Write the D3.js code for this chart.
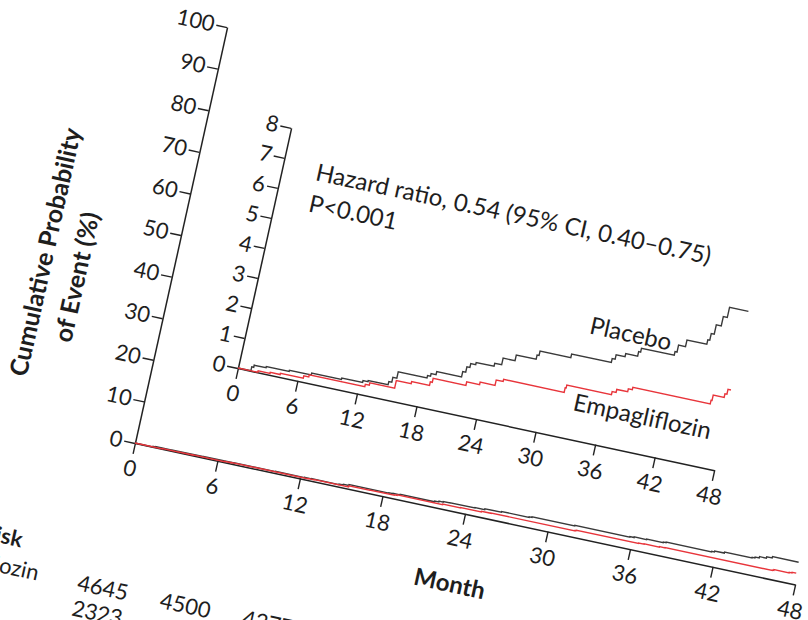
<!DOCTYPE html>
<html><head><meta charset="utf-8">
<script src="https://cdn.jsdelivr.net/npm/d3@7"></script>
<style>
body{margin:0;background:#fff}
svg text{font-family:Lato,"Open Sans",sans-serif;fill:#1e1e1e}
</style>
</head><body>
<svg id="c" width="808" height="620"></svg>
<script>
// ---- data ----
const monthTicks = [0,6,12,18,24,30,36,42,48];
const mainYTicks = [0,10,20,30,40,50,60,70,80,90,100];
const insetYTicks = [0,1,2,3,4,5,6,7,8];
// [month, cumulative %]
const placebo = [[0,0],[1.3,0.13],[1.5,0.2],[2.7,0.24],[5.0,0.28],[7.2,0.34],[10.2,0.39],[12.3,0.45],[12.8,0.49],[14.8,0.6],[15.1,0.76],[15.5,0.97],[18.4,1.05],[18.7,1.14],[19.2,1.24],[21.7,1.42],[22.0,1.6],[22.3,1.73],[22.8,1.8],[24.6,1.9],[25.3,2.12],[26.5,2.31],[28.5,2.45],[28.7,2.6],[31.8,2.72],[35.8,2.85],[36.1,3.0],[37.0,3.1],[38.2,3.25],[38.4,3.38],[41.7,3.5],[41.9,3.73],[42.6,3.95],[44.6,4.1],[44.8,4.32],[45.1,4.63],[45.6,4.94],[46.0,5.28],[47.9,5.28]];
const empagliflozin = [[0,0],[2.0,0.05],[3.2,0.08],[4.2,0.12],[6.5,0.2],[7.0,0.27],[12.6,0.35],[13.0,0.43],[15.5,0.68],[17.0,0.75],[18.8,0.87],[19.0,1.0],[22.3,1.12],[23.6,1.2],[25.1,1.38],[25.8,1.45],[31.9,1.6],[32.0,1.7],[36.5,1.8],[36.9,1.9],[38.0,2.0],[38.4,2.08],[46.2,2.2],[46.3,2.38],[47.4,2.5],[47.6,2.66],[47.9,2.66]];
const atRiskMonths = [0,6,12];
const atRiskEmpa = [4645,4500,4377];
const atRiskPlacebo = [2323];
const hrText = "Hazard ratio, 0.54 (95% CI, 0.40\u20130.75)";
const pText = "P<0.001";

// ---- drawing ----
const svg = d3.select("#c");
const FS = 22;      // tick labels, table
const FA = 24;      // annotations
const FT = 25;      // axis titles
const root = svg.append("g").attr("transform","matrix(0.978,0.2096,-0.2164,0.9763,135,443)");

function styleAxis(g){
  g.attr("font-size",null).attr("font-family",null);
  g.select(".domain").attr("stroke","#222").attr("stroke-width",1.5);
  g.selectAll(".tick line").attr("stroke","#222").attr("stroke-width",1.4);
  g.selectAll(".tick text").attr("font-size",FS).attr("fill","#1e1e1e");
}

// main panel
const x = d3.scaleLinear().domain([0,48]).range([0,675]);
const y = d3.scaleLinear().domain([0,100]).range([0,-426]);
const lineMain = d3.line().x(d=>x(d[0])).y(d=>y(d[1])).curve(d3.curveStepAfter);

root.append("g").call(d3.axisBottom(x).tickValues(monthTicks).tickSize(11).tickSizeOuter(0).tickPadding(7)).call(styleAxis);
root.append("g").call(d3.axisLeft(y).tickValues(mainYTicks).tickSize(11).tickSizeOuter(0).tickPadding(2)).call(styleAxis);

root.append("path").datum(placebo).attr("d",lineMain).attr("fill","none").attr("stroke","#3a3a3a").attr("stroke-width",1.4);
root.append("path").datum(empagliflozin).attr("d",lineMain).attr("fill","none").attr("stroke","#e8353b").attr("stroke-width",1.4);

// axis titles
const yt = root.append("g");
yt.append("text").attr("transform","translate(-120,-168) rotate(-90)").attr("text-anchor","middle")
  .attr("font-size",FT).attr("font-weight","bold").text("Cumulative Probability");
yt.append("text").attr("transform","translate(-84,-150) rotate(-90)").attr("text-anchor","middle")
  .attr("font-size",FT).attr("font-weight","bold").text("of Event (%)");
root.append("text").attr("x",x(24)).attr("y",80).attr("text-anchor","middle")
  .attr("font-size",FA).attr("font-weight","bold").text("Month");

// at-risk table
const emLab = root.append("text").attr("x",-66).attr("y",155).attr("text-anchor","end").attr("font-size",FS).text("Empagliflozin");
const leftX = emLab.node().getBBox().x;
root.append("text").attr("x",leftX).attr("y",126).attr("font-size",FS).attr("font-weight","bold").text("No. at Risk");
root.append("text").attr("x",leftX).attr("y",182).attr("font-size",FS).text("Placebo");
root.selectAll("text.re").data(atRiskEmpa).join("text").attr("class","re")
  .attr("x",(d,i)=>x(atRiskMonths[i])).attr("y",156).attr("text-anchor","middle").attr("font-size",FS).text(d=>d);
root.selectAll("text.rp").data(atRiskPlacebo).join("text").attr("class","rp")
  .attr("x",(d,i)=>x(atRiskMonths[i])).attr("y",182).attr("text-anchor","middle").attr("font-size",FS).text(d=>d);

// inset
const inset = root.append("g").attr("transform","translate(84.3,-94.9)");
const xi = d3.scaleLinear().domain([0,48]).range([0,487]);
const yi = d3.scaleLinear().domain([0,8]).range([0,-246]);
const lineInset = d3.line().x(d=>xi(d[0])).y(d=>yi(d[1])).curve(d3.curveStepAfter);
inset.append("g").call(d3.axisBottom(xi).tickValues(monthTicks).tickSize(11).tickSizeOuter(0).tickPadding(7)).call(styleAxis);
inset.append("g").call(d3.axisLeft(yi).tickValues(insetYTicks).tickSize(11).tickSizeOuter(0).tickPadding(2)).call(styleAxis);
inset.append("path").datum(placebo).attr("d",lineInset).attr("fill","none").attr("stroke","#3a3a3a").attr("stroke-width",1.4);
inset.append("path").datum(empagliflozin).attr("d",lineInset).attr("fill","none").attr("stroke","#e8353b").attr("stroke-width",1.4);

inset.append("text").attr("x",34).attr("y",-200).attr("font-size",FA).text(hrText);
inset.append("text").attr("x",34).attr("y",-168).attr("font-size",FA).text(pText);
inset.append("text").attr("x",334.6).attr("y",-107.4).attr("font-size",FA).text("Placebo");
inset.append("text").attr("x",335.2).attr("y",-29).attr("font-size",FA).text("Empagliflozin");
</script>
</body></html>
